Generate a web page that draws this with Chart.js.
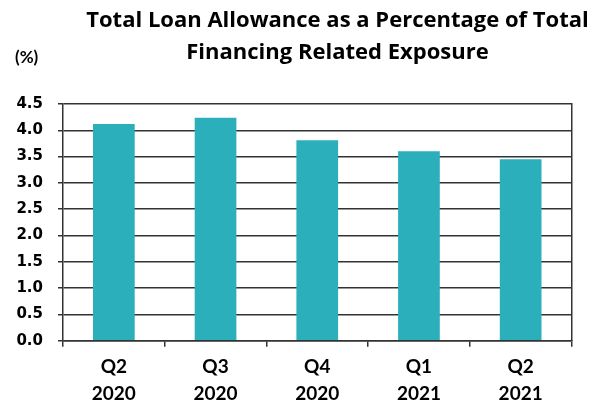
<!DOCTYPE html>
<html>
<head>
<meta charset="utf-8">
<script src="https://cdn.jsdelivr.net/npm/chart.js@4.4.1/dist/chart.umd.min.js"></script>
<style>
  html, body { margin: 0; padding: 0; background: #ffffff; }
  #wrap { width: 605px; height: 404px; position: relative; }
</style>
</head>
<body>
<div id="wrap"><canvas id="c"></canvas></div>
<script>
const titleLines = ['Total Loan Allowance as a Percentage of Total', 'Financing Related Exposure'];
const unitLabel = '(%)';
const categories = [['Q2', '2020'], ['Q3', '2020'], ['Q4', '2020'], ['Q1', '2021'], ['Q2', '2021']];
const allowancePct = [4.12, 4.24, 3.81, 3.60, 3.45];
const yTicks = [0, 0.5, 1.0, 1.5, 2.0, 2.5, 3.0, 3.5, 4.0, 4.5];

const textPlugin = {
  id: 'textPlugin',
  afterDraw(chart) {
    const ctx = chart.ctx;
    ctx.save();
    ctx.fillStyle = '#000000';
    ctx.textBaseline = 'alphabetic';
    // fit first title line to its width in the reference
    ctx.font = 'bold 20px "Open Sans"';
    const w = ctx.measureText(titleLines[0]).width;
    const size = 20 * 503 / w;
    ctx.font = 'bold ' + size.toFixed(2) + 'px "Open Sans"';
    ctx.textAlign = 'center';
    ctx.fillText(titleLines[0], 337.5, 27);
    ctx.fillText(titleLines[1], 337.5, 58.5);
    ctx.textAlign = 'left';
    ctx.font = 'bold 17px Lato';
    ctx.fillText(unitLabel, 15, 63);
    ctx.restore();
  }
};

new Chart(document.getElementById('c'), {
  type: 'bar',
  data: {
    labels: categories,
    datasets: [{
      data: allowancePct,
      backgroundColor: '#2BAFBA',
      borderWidth: 0,
      barPercentage: 0.41,
      categoryPercentage: 1.0
    }]
  },
  options: {
    responsive: true,
    maintainAspectRatio: false,
    animation: false,
    layout: { padding: { top: 104, right: 33.5, bottom: 0, left: 0 } },
    plugins: { legend: { display: false }, title: { display: false }, tooltip: { enabled: false } },
    scales: {
      x: {
        offset: true,
        grid: { display: true, drawOnChartArea: false, drawTicks: true, tickLength: 6, offset: true, color: '#333333', lineWidth: 1.5 },
        border: { display: true, color: '#333333', width: 1.5 },
        ticks: { color: '#000000', font: { family: 'Lato', weight: 'bold', size: 19, lineHeight: 1.42 }, padding: 7, maxRotation: 0, autoSkip: false },
        afterFit(scale) { scale.height = 63.3; }
      },
      y: {
        min: 0,
        max: 4.5,
        afterBuildTicks(scale) { scale.ticks = yTicks.map(v => ({ value: v })); },
        grid: { display: true, drawOnChartArea: true, drawTicks: true, tickLength: 5, color: '#333333', lineWidth: 1.5 },
        border: { display: true, color: '#333333', width: 1.5 },
        ticks: {
          color: '#000000',
          font: { family: 'DejaVu Sans', weight: 'bold', size: 15 },
          padding: 15,
          callback: (v) => Number(v).toFixed(1)
        },
        afterFit(scale) { scale.width = 63; }
      },
      y2: {
        position: 'right',
        min: 0,
        max: 4.5,
        grid: { display: false, drawOnChartArea: false, drawTicks: false },
        border: { display: true, color: '#333333', width: 1.5 },
        ticks: { display: false },
        afterFit(scale) { scale.width = 0; }
      }
    }
  },
  plugins: [textPlugin]
});
</script>
</body>
</html>
